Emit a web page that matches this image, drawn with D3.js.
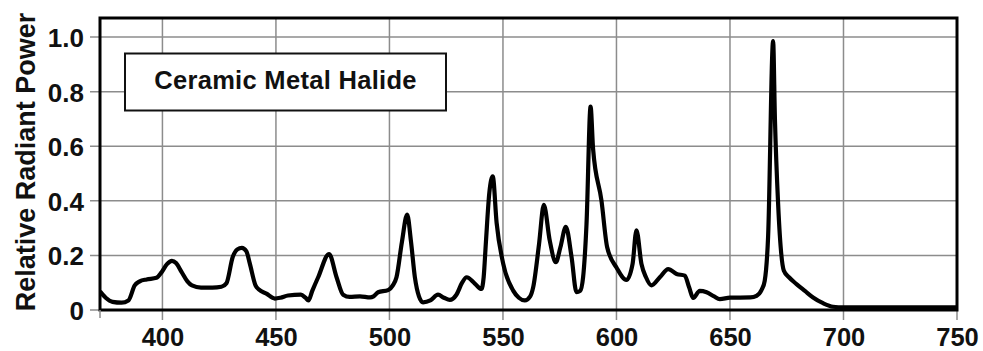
<!DOCTYPE html>
<html>
<head>
<meta charset="utf-8">
<script src="https://cdn.jsdelivr.net/npm/d3@7"></script>
<style>
  html, body { margin: 0; padding: 0; background: #fff; }
  #chart { width: 983px; height: 351px; }
</style>
</head>
<body>
<div id="chart"></div>
<script>
// spectrum (wavelength in nm, relative power)
const wavelengths = [
  372.5, 375, 378, 382, 385, 387.8, 390, 393, 397.4, 399.6, 402, 404.2, 406, 408.4,
  411, 413, 417, 422, 426, 428.2, 431, 433, 435, 437, 438.5, 441, 442.5, 445.8,
  449.5, 452, 455.3, 461, 463, 464.3, 466, 468.6, 473.4, 476.7, 479.6, 482.5, 487,
  491.5, 493, 495, 499.4, 501.5, 503.1, 505.5, 507.8, 509.5, 511.2, 513, 514.8, 518,
  521.4, 524, 526.6, 529.5, 532, 534, 537.6, 540.5, 541.5, 542.5, 544, 545.5, 547.2,
  550.1, 554.5, 557, 559.6, 562, 563.3, 565.9, 568, 570.6, 573.3, 575.3, 577.7,
  580.2, 582.4, 584, 585.3, 586.8, 588.6, 589.7, 593.4, 595.9, 600, 604.4, 607.1,
  608.8, 611, 613, 615.4, 619.1, 622.8, 626.5, 630.1, 632, 633.8, 636.7, 639.7, 643,
  645.5, 650, 659, 661.7, 664, 665.3, 666.8, 669, 669.8, 671.2, 673.7, 676, 679.3,
  683, 686.6, 691, 695.4, 700, 750,
];
const power = [
  0.068, 0.045, 0.03, 0.027, 0.035, 0.09, 0.105, 0.112, 0.118, 0.138, 0.168, 0.18, 0.172, 0.14,
  0.105, 0.09, 0.082, 0.082, 0.085, 0.098, 0.195, 0.222, 0.228, 0.215, 0.17, 0.09, 0.075, 0.06,
  0.042, 0.045, 0.053, 0.056, 0.045, 0.035, 0.07, 0.12, 0.205, 0.12, 0.056, 0.048, 0.05,
  0.046, 0.05, 0.065, 0.073, 0.09, 0.12, 0.25, 0.35, 0.25, 0.12, 0.05, 0.028, 0.035,
  0.056, 0.045, 0.037, 0.056, 0.1, 0.12, 0.097, 0.077, 0.12, 0.25, 0.43, 0.49, 0.32,
  0.17, 0.071, 0.045, 0.035, 0.05, 0.083, 0.242, 0.385, 0.255, 0.175, 0.23, 0.305,
  0.195, 0.065, 0.07, 0.12, 0.315, 0.745, 0.59, 0.4, 0.23, 0.156, 0.11, 0.169,
  0.292, 0.169, 0.12, 0.09, 0.12, 0.15, 0.132, 0.126, 0.083, 0.044, 0.07, 0.065, 0.05,
  0.04, 0.045, 0.046, 0.052, 0.075, 0.107, 0.27, 0.985, 0.7, 0.39, 0.145, 0.12, 0.095,
  0.07, 0.046, 0.025, 0.012, 0.01, 0.01,
];
const xTicks = [400, 450, 500, 550, 600, 650, 700, 750];
const yTicks = [0, 0.2, 0.4, 0.6, 0.8, 1.0];
const legendLabel = 'Ceramic Metal Halide';
const yTitle = 'Relative Radiant Power';

const width = 983;
const height = 351;
const marginLeft = 100;
const marginRight = 26;
const marginTop = 18;
const marginBottom = 41;
const font = '"Liberation Sans", Arial, Helvetica, sans-serif';

const data = wavelengths.map((w, i) => ({ w, v: power[i] }));

const xScale = d3.scaleLinear([372.5, 750], [marginLeft, width - marginRight]);
const yScale = d3.scaleLinear([0, 1.07], [height - marginBottom, marginTop]);

const svg = d3
  .create('svg')
  .attr('width', width)
  .attr('height', height)
  .attr('viewBox', [0, 0, width, height]);

// grid
const grid = svg.append('g').attr('stroke', '#8c8c8c').attr('stroke-width', 1.5);
grid
  .selectAll('.gx')
  .data(xTicks)
  .join('line')
  .attr('class', 'gx')
  .attr('x1', (d) => xScale(d))
  .attr('x2', (d) => xScale(d))
  .attr('y1', marginTop)
  .attr('y2', height - marginBottom + 10);
grid
  .selectAll('.gy')
  .data(yTicks)
  .join('line')
  .attr('class', 'gy')
  .attr('x1', marginLeft - 10)
  .attr('x2', width - marginRight)
  .attr('y1', (d) => yScale(d))
  .attr('y2', (d) => yScale(d));

// legend box
svg
  .append('rect')
  .attr('x', 125)
  .attr('y', 53.5)
  .attr('width', 321)
  .attr('height', 57)
  .attr('fill', '#fff')
  .attr('stroke', '#111')
  .attr('stroke-width', 2);

svg
  .append('text')
  .attr('x', 285.5)
  .attr('y', 89)
  .attr('text-anchor', 'middle')
  .style('font-family', font)
  .style('font-weight', 'bold')
  .style('font-size', '25.5px')
  .style('letter-spacing', '0.3px')
  .attr('fill', '#111')
  .text(legendLabel);

// curve
svg
  .append('defs')
  .append('clipPath')
  .attr('id', 'clip')
  .append('rect')
  .attr('x', marginLeft)
  .attr('y', marginTop)
  .attr('width', width - marginLeft - marginRight)
  .attr('height', height - marginTop - marginBottom);

const line = d3
  .line()
  .x((d) => xScale(d.w))
  .y((d) => yScale(d.v))
  .curve(d3.curveMonotoneX);

svg
  .append('path')
  .datum(data)
  .attr('clip-path', 'url(#clip)')
  .attr('fill', 'none')
  .attr('stroke', '#000')
  .attr('stroke-width', 4.2)
  .attr('stroke-linejoin', 'round')
  .attr('d', line);

// frame
svg
  .append('rect')
  .attr('x', marginLeft)
  .attr('y', marginTop)
  .attr('width', width - marginLeft - marginRight)
  .attr('height', height - marginTop - marginBottom)
  .attr('fill', 'none')
  .attr('stroke', '#000')
  .attr('stroke-width', 3);

svg
  .append('line')
  .attr('x1', marginLeft)
  .attr('x2', marginLeft)
  .attr('y1', height - marginBottom)
  .attr('y2', height - marginBottom + 8)
  .attr('stroke', '#8c8c8c')
  .attr('stroke-width', 1.5);

// axes
const gx = svg
  .append('g')
  .attr('transform', `translate(0,${height - marginBottom})`)
  .call(
    d3
      .axisBottom(xScale)
      .tickValues(xTicks)
      .tickSize(0)
      .tickPadding(0)
      .tickFormat(d3.format('d')),
  );
gx.select('.domain').remove();

const gy = svg
  .append('g')
  .attr('transform', `translate(${marginLeft},0)`)
  .call(
    d3
      .axisLeft(yScale)
      .tickValues(yTicks)
      .tickSize(0)
      .tickPadding(16)
      .tickFormat((d) => (d === 0 ? '0' : d3.format('.1f')(d))),
  );
gy.select('.domain').remove();

function applyAxisStyle(g, size) {
  g.selectAll('text')
    .attr('fill', '#111')
    .style('font-family', font)
    .style('font-weight', 'bold')
    .style('font-size', size);
}
applyAxisStyle(gx, '25.5px');
applyAxisStyle(gy, '26px');
// baseline of the wavelength labels sits about 35px under the axis
gx.selectAll('text').attr('y', 35.5).attr('dy', 0);
gy.selectAll('text').attr('dy', '0.36em');

svg
  .append('text')
  .attr('transform', `translate(35,${(marginTop + height - marginBottom) / 2 - 2}) rotate(-90)`)
  .attr('text-anchor', 'middle')
  .attr('fill', '#111')
  .style('font-family', font)
  .style('font-weight', 'bold')
  .style('font-size', '27px')
  .text(yTitle);

document.getElementById('chart').appendChild(svg.node());
</script>
</body>
</html>
